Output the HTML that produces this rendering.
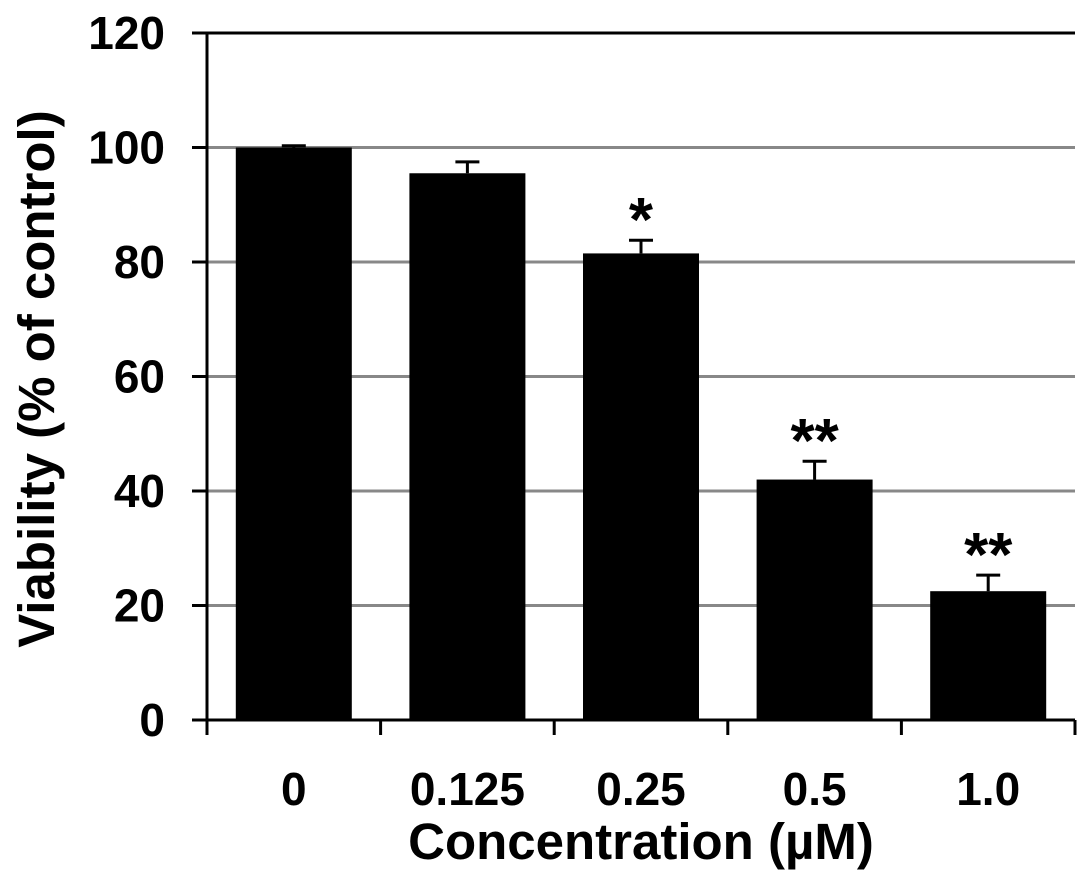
<!DOCTYPE html>
<html><head><meta charset="utf-8"><style>
body{margin:0;background:#fff}
svg text{font-family:"Liberation Sans",Arial,sans-serif;font-weight:bold;fill:#000}
</style></head><body>
<svg width="1087" height="881" xmlns="http://www.w3.org/2000/svg">
<g id="grid"></g>
<g id="bars"></g>
<g id="axes"></g>
<text transform="translate(54,379) rotate(-90)" text-anchor="middle" font-size="51">Viability (% of control)</text>
<text x="641" y="859" text-anchor="middle" font-size="51">Concentration (µM)</text>
</svg>
<script>
const categories=["0","0.125","0.25","0.5","1.0"];
const values=[100,95.5,81.5,42,22.5];
const errors=[0.3,2,2.3,3.2,2.8];
const marks=["","","*","**","**"];
const yTicks=[0,20,40,60,80,100,120];
const NS="http://www.w3.org/2000/svg";
const L=207,R=1075,T=33,B=720,yMax=120;
const y=v=>B-(v/yMax)*(B-T);
const bw=(R-L)/categories.length;
const x=i=>L+bw*i;
function mk(tag,attrs,parent,txt){const e=document.createElementNS(NS,tag);for(const k in attrs)e.setAttribute(k,attrs[k]);if(txt!==undefined)e.textContent=txt;document.getElementById(parent).appendChild(e);return e;}
yTicks.forEach(t=>{
  if(t>0){const g=mk('line',{x1:L,x2:R,y1:y(t),y2:y(t),stroke:t===yMax?'#000':'#888','stroke-width':3},'grid');
  
  }
  const tk=mk('line',{x1:L-15,x2:L,y1:y(t),y2:y(t),stroke:'#000','stroke-width':3},'axes');
  
  
  const lb=mk('text',{x:L-42,y:y(t)+16,'text-anchor':'end','font-size':46},'axes',t);
  
  
});
categories.forEach((c,i)=>{
  const cx=x(i)+bw/2, w=116;
  const eb=mk('path',{d:`M${cx} ${y(values[i])} V${y(values[i]+errors[i])} M${cx-12} ${y(values[i]+errors[i])} H${cx+12}`,stroke:'#000','stroke-width':3,fill:'none'},'bars');
  
  
  const r=mk('rect',{x:cx-w/2,y:y(values[i]),width:w,height:B-y(values[i]),fill:'#000'},'bars');
  
  
  if(marks[i]){const s=mk('text',{x:cx,y:y(values[i]+errors[i])+1,'text-anchor':'middle','font-size':62},'bars',marks[i]);
  
  }
  const lb=mk('text',{x:cx,y:805,'text-anchor':'middle','font-size':46},'axes',c);
  
  
});
for(let i=0;i<=categories.length;i++){
  const t=mk('line',{x1:x(i),x2:x(i),y1:B,y2:B+15,stroke:'#000','stroke-width':3},'axes');
  
  
}
const ya=mk('line',{x1:L,x2:L,y1:T,y2:B,stroke:'#000','stroke-width':3},'axes');


const xa=mk('line',{x1:L,x2:R,y1:B,y2:B,stroke:'#000','stroke-width':3},'axes');


</script>
</body></html>
